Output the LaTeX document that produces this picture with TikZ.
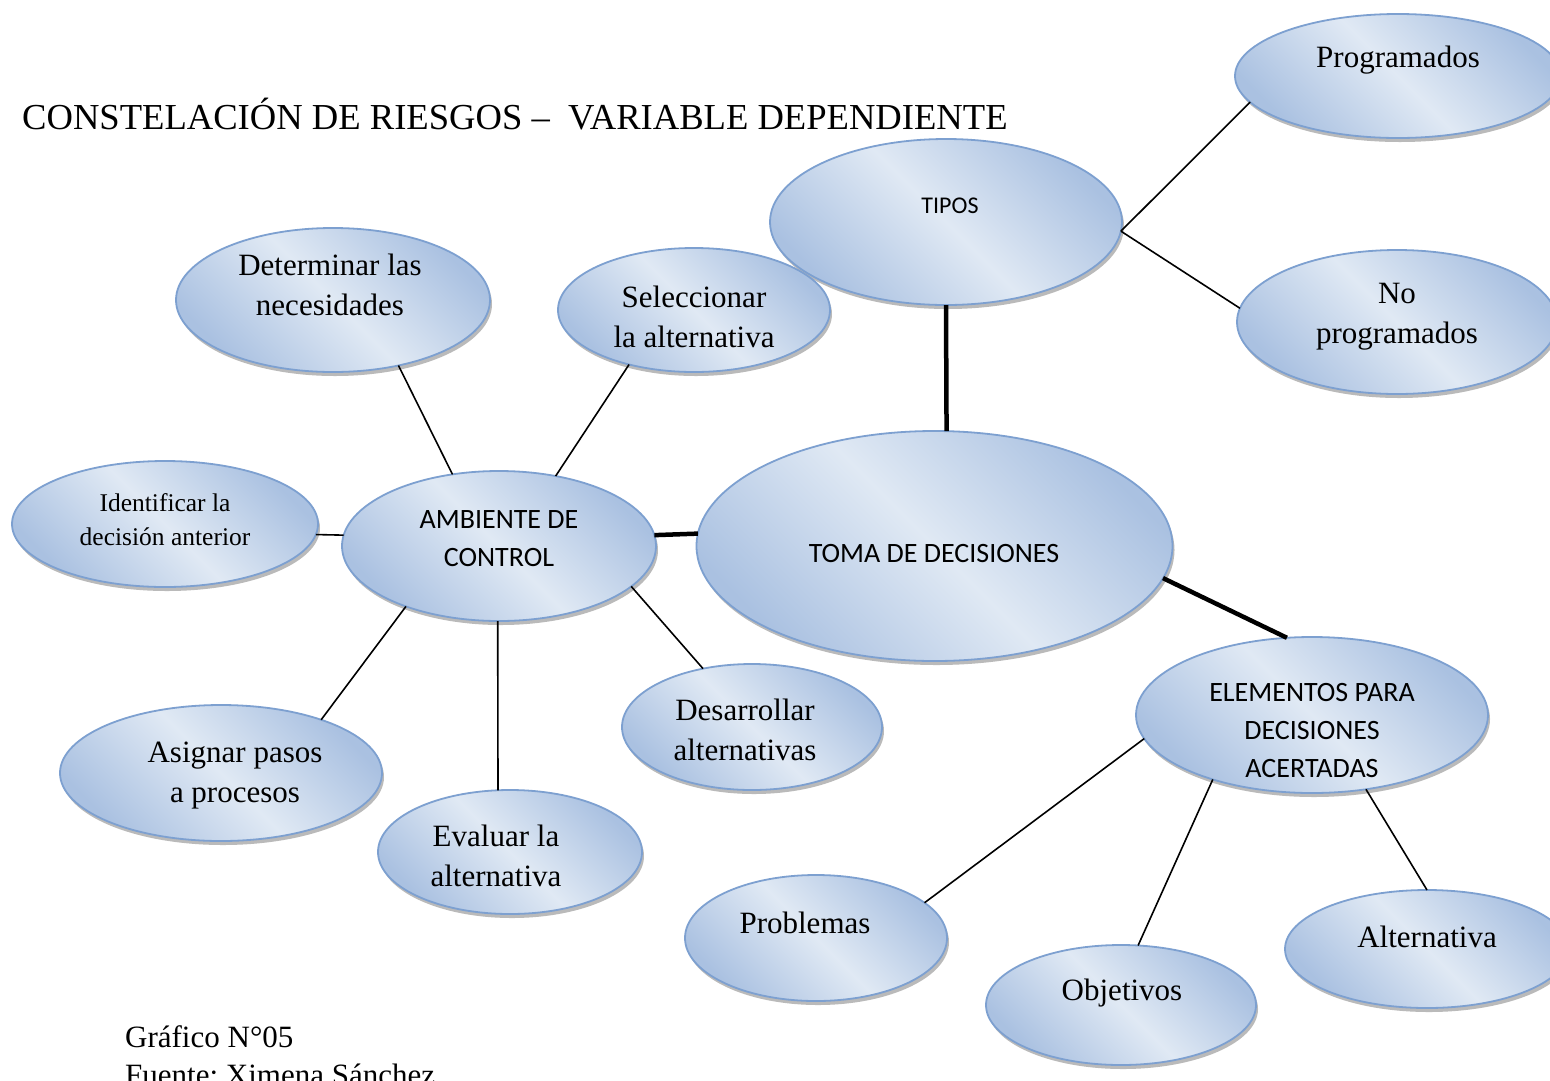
\documentclass[tikz,border=0pt]{standalone}
\usepackage{fontspec}
\setmainfont{Liberation Serif}
\newfontfamily\calibri{Carlito}
\usetikzlibrary{shapes.geometric,shadows}
\frenchspacing

\definecolor{bdark}{RGB}{170,193,225}
\definecolor{blight}{RGB}{224,233,244}
\definecolor{bline}{RGB}{125,160,208}

% diagonal dark-light-dark fill of the bubbles
\pgfdeclarehorizontalshading{bubbleshade}{100bp}{color(0bp)=(bdark); color(25bp)=(bdark); color(50bp)=(blight); color(75bp)=(bdark); color(100bp)=(bdark)}

\tikzset{
  bubble/.style={ellipse, draw=bline, line width=1.8pt, shading=bubbleshade,
    shading angle=45, inner sep=0pt, outer sep=0pt,
    drop shadow={shadow xshift=2pt, shadow yshift=-4pt, fill=black!45, opacity=0.6}},
  serif/.style={font=\fontsize{31}{40}\selectfont, align=center, inner sep=0pt},
  small/.style={font=\fontsize{25.5}{34}\selectfont, align=center, inner sep=0pt},
  sans/.style={font=\calibri\fontsize{28}{38}\selectfont, align=center, inner sep=0pt},
  link/.style={line width=1.6pt},
  trunk/.style={line width=4.5pt}
}

\begin{document}
\begin{tikzpicture}[x=1pt, y=-1pt]
\clip (0,0) rectangle (1550,1080);
\fill[white] (0,0) rectangle (1550,1080);

% title
\node[anchor=base west, inner sep=0pt, font=\fontsize{36.6}{40}\selectfont] (title) at (22,129)
  {CONSTELACIÓN DE RIESGOS –~ VARIABLE DEPENDIENTE};

% bubbles
\node[bubble, minimum width=326pt, minimum height=124pt] (prog)   at (1398,76)  {};
\node[bubble, minimum width=352pt, minimum height=166pt] (tipos)  at (946,222)  {};
\node[bubble, minimum width=320pt, minimum height=144pt] (noprog) at (1397,322) {};
\node[bubble, minimum width=314pt, minimum height=144pt] (det)    at (333,300)  {};
\node[bubble, minimum width=272pt, minimum height=124pt] (sel)    at (694,310)  {};
\node[bubble, minimum width=306pt, minimum height=126pt] (iden)   at (165,524)  {};
\node[bubble, minimum width=314pt, minimum height=150pt] (amb)    at (499,546)  {};
\node[bubble, minimum width=476pt, minimum height=230pt] (toma)   at (934.5,546) {};
\node[bubble, minimum width=260pt, minimum height=126pt] (des)    at (752,727)  {};
\node[bubble, minimum width=352pt, minimum height=156pt] (elem)   at (1312,715) {};
\node[bubble, minimum width=322pt, minimum height=136pt] (asig)   at (221,773)  {};
\node[bubble, minimum width=264pt, minimum height=124pt] (eval)   at (510,852)  {};
\node[bubble, minimum width=262pt, minimum height=126pt] (prob)   at (816,938)  {};
\node[bubble, minimum width=270pt, minimum height=120pt] (obj)    at (1121,1005) {};
\node[bubble, minimum width=284pt, minimum height=118pt] (alt)    at (1427,949) {};

% labels
\node[serif] (progT)   at (1398,60)  {Programados};
\node[sans, font=\calibri\fontsize{24}{30}\selectfont] (tiposT) at (950,206) {TIPOS};
\node[serif] (noprogT) at (1397,317) {No\\programados};
\node[serif] (detT)    at (330,285)  {Determinar las\\necesidades};
\node[serif] (selT)    at (694,317)  {Seleccionar\\la alternativa};
\node[small] (idenT)   at (165,520)  {Identificar la\\decisión anterior};
\node[sans]  (ambT)    at (499,539)  {AMBIENTE DE\\CONTROL};
\node[sans]  (tomaT)   at (934,553)  {TOMA DE DECISIONES};
\node[serif] (desT)    at (745,730)  {Desarrollar\\alternativas};
\node[sans]  (elemT)   at (1312,730) {ELEMENTOS PARA\\DECISIONES\\ACERTADAS};
\node[serif] (asigT)   at (235,776)  {Asignar pasos\\a procesos};
\node[serif] (evalT)   at (496,856)  {Evaluar la\\alternativa};
\node[serif] (probT)   at (805,923)  {Problemas};
\node[serif] (objT)    at (1122,993) {Objetivos};
\node[serif] (altT)    at (1427,937) {Alternativa};

% connectors
\draw[link] (tipos.-3.3) -- (prog.-170);
\draw[link] (tipos.-3.3) -- (noprog.175);
\draw[trunk] (tipos.-90) -- (toma.84.4);
\draw[trunk] (amb.4) -- (toma.177.4);
\draw[trunk] (toma.-8.4) -- (elem.108.7);
\draw[link] (det.-45.8) -- (amb.123.5);
\draw[link] (sel.-140.7) -- (amb.51.4);
\draw[link] (iden.-4.1) -- (amb.176);
\draw[link] (amb.-147.9) -- (asig.28.6);
\draw[link] (amb.-91.5) -- (eval.101.8);
\draw[link] (amb.-17.6) -- (des.130.7);
\draw[link] (elem.-172) -- (prob.18.8);
\draw[link] (elem.-147.4) -- (obj.74.6);
\draw[link] (elem.-54.3) -- (alt.90);

% source note (second line runs off the bottom edge)
\node[anchor=base west, align=left, inner sep=0pt, font=\fontsize{31}{38}\selectfont] (note) at (125,1085)
  {Gráfico N°05\\Fuente: Ximena Sánchez};
\end{tikzpicture}
\end{document}
